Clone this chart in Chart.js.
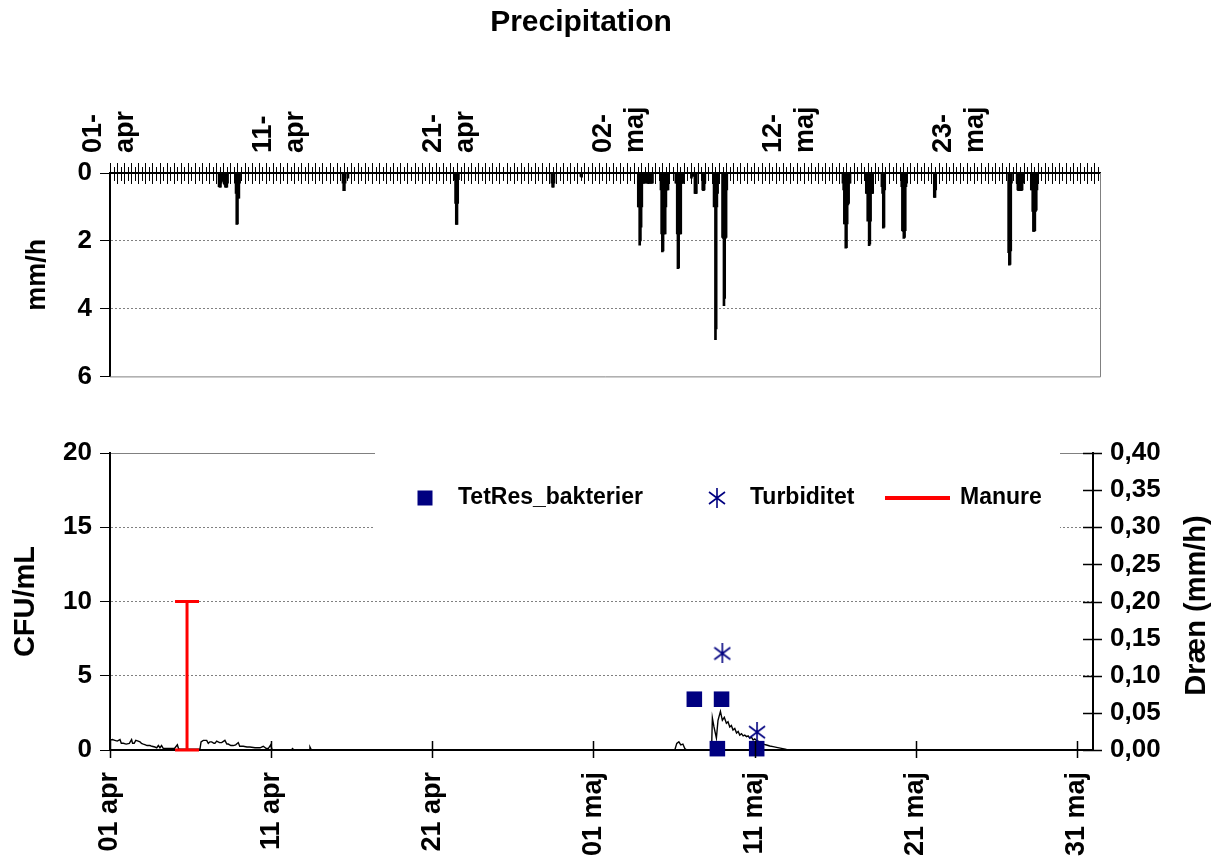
<!DOCTYPE html>
<html>
<head>
<meta charset="utf-8">
<title>Precipitation</title>
<script src="https://cdn.jsdelivr.net/npm/chart.js@4.4.1/dist/chart.umd.min.js"></script>
<style>
  html, body { margin: 0; padding: 0; background: #fff; }
  #wrap { position: relative; width: 1213px; height: 859px; overflow: hidden; }
  .box { position: absolute; }
  #rainBox { left: 0; top: 0; width: 1162px; height: 400px; }
  #drainBox { left: 0; top: 400px; width: 1213px; height: 459px; }
</style>
</head>
<body>
<div id="wrap">
  <div class="box" id="rainBox"><canvas id="rainChart"></canvas></div>
  <div class="box" id="drainBox"><canvas id="drainChart"></canvas></div>
</div>
<script>
const FONT = "'Liberation Sans', Arial, Helvetica, sans-serif";
const NAVY = '#000080';
const TITLE = 'Precipitation';

// --- precipitation, logger index (hours) counted from 01-apr ---
const rainHours = 1398;
const rainTickPos = [0, 240, 480, 720, 960, 1200];
const rainTickLabels = [['01-', 'apr'], ['11-', 'apr'], ['21-', 'apr'], ['02-', 'maj'], ['12-', 'maj'], ['23-', 'maj']];
const rainHour = [
  154, 155, 156, 157, 158, 160, 162, 163, 164, 165, 166,
  177, 178, 179, 180, 181, 182, 183,
  329, 330, 331, 332, 336,
  487, 488, 489, 490, 491, 492,
  624, 625, 626, 627, 665, 666,
  746, 747, 748, 749, 750, 751, 752, 753, 754, 755, 758, 759, 760, 761, 762, 763, 764, 765, 766,
  778, 779, 780, 781, 782, 783, 784, 785, 786, 787, 788,
  799, 800, 801, 802, 803, 804, 805, 806, 807, 808, 809, 810,
  821, 823, 826, 827, 828,
  837, 838, 839, 840,
  853, 854, 855, 856, 857, 858, 859,
  865, 866, 867, 868, 869, 870, 871,
  1035, 1036, 1037, 1038, 1039, 1040, 1041, 1042, 1043, 1044, 1045,
  1068, 1069, 1070, 1071, 1072, 1073, 1074, 1075, 1076, 1077,
  1090, 1091, 1092, 1093, 1094,
  1118, 1119, 1120, 1121, 1122, 1123, 1124, 1125,
  1164, 1165, 1166,
  1269, 1270, 1271, 1272, 1273,
  1281, 1282, 1283, 1284, 1285, 1286, 1287, 1288, 1289,
  1301, 1302, 1303, 1304, 1305, 1306, 1307, 1308, 1309
];
const rainMm = [
  0.4, 0.42, 0.42, 0.3, 0.25, 0.2, 0.35, 0.42, 0.42, 0.42, 0.3,
  0.3, 0.6, 1.52, 1.5, 0.74, 0.74, 0.3,
  0.3, 0.52, 0.52, 0.3, 0.15,
  0.2, 0.9, 1.52, 1.52, 0.9, 0.2,
  0.3, 0.42, 0.42, 0.3, 0.1, 0.12,
  1.0, 1.0, 2.13, 2.0, 1.6, 1.0, 0.3, 0.3, 0.3, 0.3, 0.3, 0.3, 0.3, 0.3, 0.3, 0.3, 0.3, 0.3, 0.3,
  0.5, 1.8, 2.33, 2.3, 1.8, 1.8, 1.8, 1.0, 0.5, 0.5, 0.5,
  0.3, 0.3, 1.8, 2.82, 2.8, 1.8, 1.8, 1.8, 0.3, 0.3, 0.3, 0.3,
  0.15, 0.1, 0.6, 0.61, 0.6,
  0.5, 0.52, 0.5, 0.3,
  1.0, 0.98, 4.92, 4.6, 1.0, 0.6, 0.3,
  1.9, 1.93, 3.91, 3.7, 1.93, 1.9, 0.5,
  0.3, 0.5, 1.5, 1.5, 2.22, 2.2, 1.5, 0.94, 0.9, 0.3, 0.3,
  0.6, 0.6, 1.42, 1.4, 2.14, 2.1, 1.42, 0.6, 0.6, 0.6,
  0.4, 0.6, 1.63, 1.6, 0.5,
  0.4, 1.7, 1.72, 1.93, 1.9, 1.7, 0.4, 0.3,
  0.72, 0.72, 0.5,
  2.35, 2.72, 2.7, 2.3, 0.3,
  0.3, 0.5, 0.52, 0.52, 0.52, 0.52, 0.52, 0.5, 0.3,
  0.5, 0.5, 1.13, 1.72, 1.72, 1.7, 1.13, 1.1, 0.5
];

// --- drain flow and samples, x in days after 01 apr ---
const dayTickPos = [0, 10, 20, 30, 40, 50, 60];
const dayTickLabels = ['01 apr', '11 apr', '21 apr', '01 maj', '11 maj', '21 maj', '31 maj'];
const drainDay = [
  0.00, 0.15, 0.30, 0.45, 0.62, 0.70, 0.83, 1.00, 1.20, 1.34, 1.40, 1.50, 1.60, 1.75, 1.86, 1.95,
  2.07, 2.20, 2.30, 2.48, 2.60, 2.79, 2.90, 3.00, 3.10, 3.20, 3.31, 3.50, 3.72, 4.00, 4.18, 4.25,
  4.34, 5.00, 5.58, 5.65, 5.79, 6.00, 6.10, 6.20, 6.31, 6.45, 6.51, 6.62, 6.80, 6.93, 7.13, 7.25,
  7.34, 7.50, 7.65, 7.80, 7.96, 8.05, 8.27, 8.50, 8.68, 9.00, 9.31, 9.51, 9.70, 9.82, 9.97, 10.05,
  10.13, 11.25, 11.33, 11.40, 12.35, 12.41, 12.50,
  35.05, 35.17, 35.30, 35.42, 35.55, 35.67, 35.79,
  37.33, 37.38, 37.48, 37.63, 37.73, 37.88, 38.00, 38.12, 38.25, 38.35, 38.46, 38.56, 38.66, 38.77,
  38.88, 38.98, 39.08, 39.19, 39.29, 39.39, 39.50, 39.60, 39.70, 39.81, 39.91, 40.01, 40.12, 40.22,
  40.32, 40.52, 40.74, 40.94, 41.15, 41.36, 41.67, 41.98, 42.29, 61.0
];
const drainMm = [
  0.013, 0.014, 0.013, 0.012, 0.014, 0.009, 0.009, 0.008, 0.009, 0.014, 0.009, 0.009, 0.013, 0.012, 0.011, 0.009,
  0.008, 0.007, 0.006, 0.006, 0.005, 0.004, 0.003, 0.006, 0.003, 0.006, 0.002, 0.002, 0.002, 0.002, 0.007, 0.002,
  0.001, 0.001, 0.001, 0.011, 0.013, 0.013, 0.009, 0.011, 0.011, 0.009, 0.009, 0.012, 0.010, 0.010, 0.013, 0.008,
  0.008, 0.006, 0.006, 0.007, 0.010, 0.005, 0.005, 0.004, 0.004, 0.003, 0.003, 0.005, 0.002, 0.002, 0.007, 0.001,
  0.000, 0.000, 0.002, 0.000, 0.000, 0.004, 0.000,
  0.000, 0.009, 0.011, 0.007, 0.008, 0.002, 0.000,
  0.000, 0.043, 0.031, 0.016, 0.040, 0.052, 0.040, 0.044, 0.036, 0.038, 0.031, 0.033, 0.027, 0.029,
  0.023, 0.025, 0.020, 0.022, 0.019, 0.020, 0.018, 0.019, 0.016, 0.017, 0.0135, 0.015, 0.0125, 0.012,
  0.010, 0.008, 0.0067, 0.0054, 0.0045, 0.0036, 0.0022, 0.0009, 0.000, 0.000
];
const tetDay = [36.26, 37.95, 37.69, 40.13];
const tetCfu = [3.42, 3.42, 0.09, 0.09];
const turbDay = [38.0, 40.15];
const turbVal = [6.5, 1.2];
const manureDay = 4.78;
const manureTop = 10;

function fmtComma(v) {
  return v.toFixed(2).replace('.', ',');
}

// six-armed asterisk used as point marker
function makeAsterisk(color) {
  const c = document.createElement('canvas');
  c.width = 18; c.height = 20;
  const g = c.getContext('2d');
  g.strokeStyle = color;
  g.lineWidth = 1.6;
  g.beginPath();
  g.moveTo(9, 0); g.lineTo(9, 20);
  g.moveTo(1, 4); g.lineTo(17, 16);
  g.moveTo(1, 16); g.lineTo(17, 4);
  g.stroke();
  return c;
}
const asterisk = makeAsterisk(NAVY);

const tickFont = { family: FONT, size: 26, weight: 'bold' };

// title, grey frame, the dense comb of marks and the two-line date labels on the time axis
const rainFrame = {
  id: 'rainFrame',
  afterDraw(chart) {
    const { ctx, chartArea: a, scales: { x } } = chart;
    ctx.save();
    ctx.fillStyle = '#000';
    ctx.font = `bold 30px ${FONT}`;
    ctx.textAlign = 'center';
    ctx.textBaseline = 'middle';
    ctx.fillText(TITLE, 581, 23);

    ctx.strokeStyle = '#808080';
    ctx.lineWidth = 1;
    ctx.beginPath();
    ctx.moveTo(a.right + 0.5, a.top);
    ctx.lineTo(a.right + 0.5, a.bottom + 0.5);
    ctx.lineTo(a.left, a.bottom + 0.5);
    ctx.stroke();

    ctx.strokeStyle = '#000';
    ctx.beginPath();
    for (let v = 0, i = 0; v <= rainHours; v += 5, i++) {
      const px = Math.round(x.getPixelForValue(v)) + 0.5;
      const up = i % 2 ? 6 : 10;
      const down = i % 2 ? 8 : 11;
      ctx.moveTo(px, a.top - up);
      ctx.lineTo(px, a.top + down);
    }
    ctx.stroke();

    ctx.font = `bold 27px ${FONT}`;
    ctx.textAlign = 'left';
    ctx.textBaseline = 'alphabetic';
    rainTickPos.forEach((v, i) => {
      ctx.save();
      ctx.translate(x.getPixelForValue(v), a.top - 20);
      ctx.rotate(-Math.PI / 2);
      ctx.fillText(rainTickLabels[i][0], 0, -9);
      ctx.fillText(rainTickLabels[i][1], 0, 23);
      ctx.restore();
    });
    ctx.restore();
  }
};

new Chart(document.getElementById('rainChart'), {
  type: 'bar',
  data: {
    datasets: [{
      label: TITLE,
      data: rainHour.map((h, i) => ({ x: h, y: rainMm[i] })),
      backgroundColor: '#000',
      barThickness: 2
    }]
  },
  options: {
    animation: false,
    responsive: true,
    maintainAspectRatio: false,
    events: [],
    layout: { padding: { top: 38, right: 62, bottom: 22 } },
    plugins: {
      legend: { display: false },
      tooltip: { enabled: false },
      title: { display: false }
    },
    scales: {
      x: {
        type: 'linear',
        position: 'top',
        min: 0,
        max: rainHours,
        offset: false,
        afterFit: s => { s.height = 135; },
        ticks: { display: false },
        grid: { display: false },
        border: { color: '#000', width: 2 }
      },
      y: {
        reverse: true,
        min: 0,
        max: 6,
        afterFit: s => { s.width = 110; },
        ticks: { stepSize: 2, padding: 8, color: '#000', font: tickFont },
        title: {
          display: true,
          text: 'mm/h',
          color: '#000',
          font: { family: FONT, size: 27, weight: 'bold' },
          padding: { top: 21, bottom: 0 }
        },
        grid: {
          color: c => (c.tick && (c.tick.value === 2 || c.tick.value === 4)) ? '#808080' : 'rgba(0,0,0,0)',
          tickColor: '#000',
          tickLength: 10,
          lineWidth: 1
        },
        border: { color: '#000', width: 2, dash: [2, 2] }
      }
    }
  },
  plugins: [rainFrame]
});

// crossing tick marks, right axis title and the legend panel
const drainDecor = {
  id: 'drainDecor',
  afterDatasetsDraw(chart) {
    const { ctx, chartArea: a } = chart;
    const ds = chart.data.datasets;
    ctx.save();
    ctx.fillStyle = '#fff';
    ctx.fillRect(a.left + 265, a.top - 8, a.right - a.left - 298, 96);
    const cy = a.top + 45;
    ctx.font = `bold 23px ${FONT}`;
    ctx.textBaseline = 'middle';
    ctx.textAlign = 'left';
    ctx.fillStyle = NAVY;
    ctx.fillRect(a.left + 307.5, cy - 7.5, 15, 15);
    ctx.drawImage(asterisk, a.left + 598, cy - 10);
    ctx.strokeStyle = '#ff0000';
    ctx.lineWidth = 4;
    ctx.beginPath();
    ctx.moveTo(a.left + 775, cy);
    ctx.lineTo(a.left + 840, cy);
    ctx.stroke();
    ctx.fillStyle = '#000';
    ctx.fillText(ds[0].label, a.left + 348, cy);
    ctx.fillText(ds[1].label, a.left + 640, cy);
    ctx.fillText(ds[2].label, a.left + 850, cy);
    ctx.restore();
  },
  afterDraw(chart) {
    const { ctx, chartArea: a, scales: { x, y1 } } = chart;
    ctx.save();
    ctx.strokeStyle = '#000';
    ctx.lineWidth = 1.5;
    ctx.beginPath();
    dayTickPos.forEach(v => {
      const px = Math.round(x.getPixelForValue(v)) + 0.5;
      ctx.moveTo(px, a.bottom - 9);
      ctx.lineTo(px, a.bottom + 8);
    });
    y1.ticks.forEach(t => {
      const py = Math.round(y1.getPixelForValue(t.value)) + 0.5;
      ctx.moveTo(a.right - 10, py);
      ctx.lineTo(a.right + 9, py);
    });
    ctx.stroke();
    ctx.translate(1197, (a.top + a.bottom) / 2 + 4);
    ctx.rotate(-Math.PI / 2);
    ctx.font = `bold 29px ${FONT}`;
    ctx.textAlign = 'center';
    ctx.textBaseline = 'middle';
    ctx.fillStyle = '#000';
    ctx.fillText('Dræn (mm/h)', 0, 0);
    ctx.restore();
  }
};

new Chart(document.getElementById('drainChart'), {
  type: 'scatter',
  data: {
    datasets: [
      {
        label: 'TetRes_bakterier',
        data: tetDay.map((d, i) => ({ x: d, y: tetCfu[i] })),
        pointStyle: 'rect',
        pointRadius: 11,
        backgroundColor: NAVY,
        borderColor: NAVY,
        borderWidth: 0,
        clip: false
      },
      {
        label: 'Turbiditet',
        data: turbDay.map((d, i) => ({ x: d, y: turbVal[i] })),
        pointStyle: asterisk,
        pointRadius: 10,
        clip: false
      },
      {
        label: 'Manure',
        data: [{ x: manureDay, y: 0 }, { x: manureDay, y: manureTop }],
        showLine: true,
        borderColor: '#ff0000',
        borderWidth: 3,
        pointStyle: 'line',
        pointRadius: 12,
        pointBorderWidth: 3,
        pointBorderColor: '#ff0000',
        clip: false
      },
      {
        label: 'Dræn',
        data: drainDay.map((d, i) => ({ x: d, y: drainMm[i] })),
        yAxisID: 'y1',
        showLine: true,
        borderColor: '#000',
        borderWidth: 1.4,
        pointRadius: 0
      }
    ]
  },
  options: {
    animation: false,
    responsive: true,
    maintainAspectRatio: false,
    events: [],
    layout: { padding: { top: 53 } },
    plugins: {
      legend: { display: false },
      tooltip: { enabled: false }
    },
    scales: {
      x: {
        type: 'linear',
        min: 0,
        max: 61,
        afterBuildTicks: s => { s.ticks = dayTickPos.map(v => ({ value: v })); },
        afterFit: s => { s.height = 109; },
        ticks: {
          autoSkip: false,
          minRotation: 90,
          maxRotation: 90,
          padding: 14,
          color: '#000',
          font: { family: FONT, size: 27, weight: 'bold' },
          callback: (v, i) => dayTickLabels[i]
        },
        grid: { display: false },
        border: { color: '#000', width: 2 }
      },
      y: {
        position: 'left',
        min: 0,
        max: 20,
        afterFit: s => { s.width = 110; },
        ticks: { stepSize: 5, padding: 8, color: '#000', font: tickFont },
        title: {
          display: true,
          text: 'CFU/mL',
          color: '#000',
          font: { family: FONT, size: 29, weight: 'bold' },
          padding: { top: 9, bottom: 0 }
        },
        grid: {
          color: c => (c.tick && c.tick.value > 0) ? '#808080' : 'rgba(0,0,0,0)',
          tickColor: '#000',
          tickLength: 10,
          lineWidth: 1
        },
        border: {
          color: '#000',
          width: 2,
          dash: c => (c.tick && c.tick.value === 20) ? [] : [2, 2]
        }
      },
      y1: {
        position: 'right',
        min: 0,
        max: 0.4,
        afterFit: s => { s.width = 120; },
        ticks: {
          stepSize: 0.05,
          padding: 17,
          color: '#000',
          font: tickFont,
          callback: v => fmtComma(v)
        },
        grid: { drawOnChartArea: false, drawTicks: false },
        border: { color: '#000', width: 2 }
      }
    }
  },
  plugins: [drainDecor]
});
</script>
</body>
</html>
